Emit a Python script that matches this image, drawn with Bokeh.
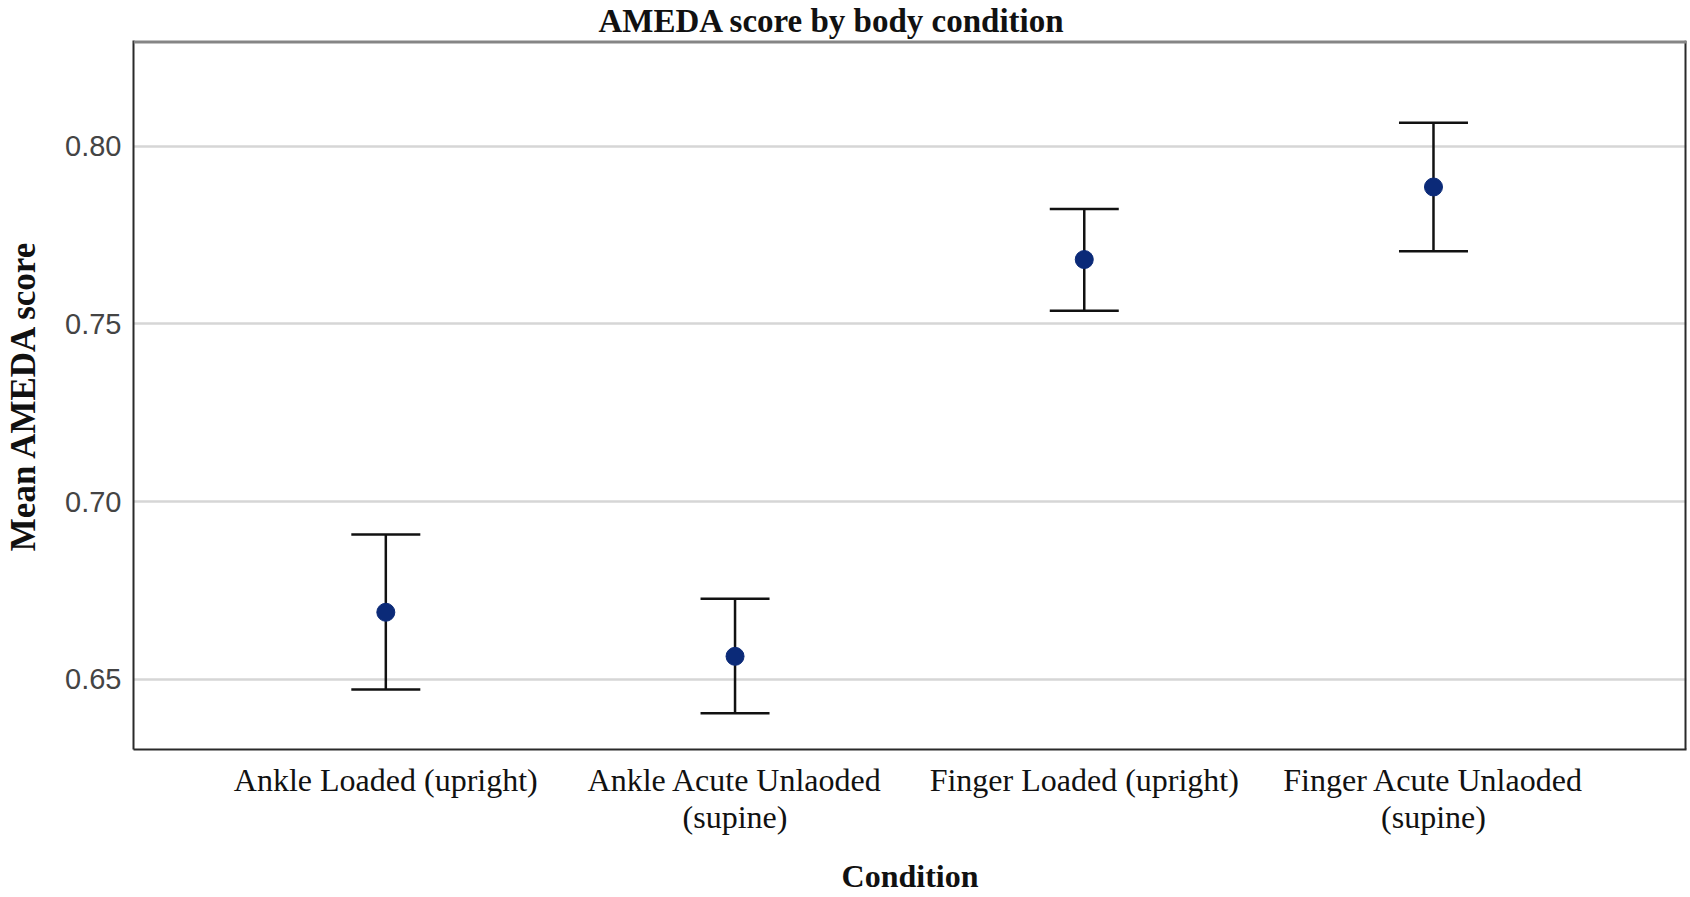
from bokeh.plotting import figure
from bokeh.models import (ColumnDataSource, Whisker, TeeHead, Span,
                          FixedTicker, Range1d)
from bokeh.embed import file_html
from bokeh.resources import INLINE

# ---- data ----
categories = ["Ankle Loaded (upright)", "Ankle Acute Unlaoded\n(supine)",
              "Finger Loaded (upright)", "Finger Acute Unlaoded\n(supine)"]
means = [0.6689, 0.6565, 0.7681, 0.7885]
upper = [0.6908, 0.6727, 0.7823, 0.8066]
lower = [0.6472, 0.6405, 0.7537, 0.7704]
y_ticks = [0.65, 0.70, 0.75, 0.80]
y_tick_labels = ["0.65", "0.70", "0.75", "0.80"]

title_text = "AMEDA score by body condition"
x_title = "Condition"
y_title = "Mean AMEDA score"

xs = list(range(len(categories)))
src = ColumnDataSource(dict(x=xs, mean=means, upper=upper, lower=lower))

X0, X1 = -0.7225, 3.7245
Y0, Y1 = 0.6303, 0.8297

p = figure(width=1690, height=897, output_backend="svg", toolbar_location=None,
           x_range=Range1d(X0, X1), y_range=Range1d(Y0, Y1),
           min_border_left=133, min_border_right=4, min_border_top=40,
           min_border_bottom=147)
p.background_fill_color = "white"
p.border_fill_color = "white"
p.outline_line_color = None

# title
p.title.text = title_text
p.title.align = "left"
p.title.offset = 465
p.title.standoff = 0
p.title.vertical_align = "top"
p.title.text_font = "Liberation Serif"
p.title.text_font_style = "bold"
p.title.text_font_size = "33px"
p.title.text_color = "#111111"

# axes
p.xaxis.ticker = FixedTicker(ticks=xs)
p.xaxis.major_label_overrides = {i: c for i, c in zip(xs, categories)}
p.xaxis.major_label_text_font = "Liberation Serif"
p.xaxis.major_label_text_font_size = "32px"
p.xaxis.major_label_text_color = "#111111"
p.xaxis.major_label_standoff = 12
p.xaxis.major_label_text_line_height = 1.05
p.xaxis.axis_label = x_title
p.xaxis.axis_label_text_font = "Liberation Serif"
p.xaxis.axis_label_text_font_style = "bold"
p.xaxis.axis_label_text_font_size = "32px"
p.xaxis.axis_label_text_color = "#111111"
p.xaxis.axis_label_text_baseline = "alphabetic"
p.xaxis.axis_label_standoff = 20

p.yaxis.ticker = FixedTicker(ticks=y_ticks)
p.yaxis.major_label_overrides = {t: l for t, l in zip(y_ticks, y_tick_labels)}
p.yaxis.major_label_text_font = "Liberation Sans"
p.yaxis.major_label_text_font_size = "29px"
p.yaxis.major_label_text_color = "#444444"
p.yaxis.major_label_standoff = 12
p.yaxis.axis_label = y_title
p.yaxis.axis_label_text_font = "Liberation Serif"
p.yaxis.axis_label_text_font_style = "bold"
p.yaxis.axis_label_text_font_size = "35px"
p.yaxis.axis_label_text_color = "#111111"
p.yaxis.axis_label_text_baseline = "alphabetic"
p.yaxis.axis_label_standoff = 19

for ax in (p.xaxis, p.yaxis):
    ax.axis_line_color = "#2a2a2a"
    ax.axis_line_width = 2
    ax.major_tick_line_color = None
    ax.minor_tick_line_color = None
    ax.major_tick_out = 0
    ax.major_tick_in = 0
    ax.minor_tick_out = 0
    ax.minor_tick_in = 0

p.xgrid.grid_line_color = None
p.ygrid.ticker = FixedTicker(ticks=y_ticks)
p.ygrid.grid_line_color = "#d6d6d6"
p.ygrid.grid_line_width = 2.5

# right and top frame edges
p.add_layout(Span(location=X1, dimension="height", line_color="#2a2a2a", line_width=4))
p.add_layout(Span(location=Y1, dimension="width", line_color="#858585", line_width=6))

# error bars
w = Whisker(source=src, base="x", upper="upper", lower="lower",
            line_color="#111111", line_width=2.5,
            upper_head=TeeHead(size=69, line_color="#111111", line_width=2.5),
            lower_head=TeeHead(size=69, line_color="#111111", line_width=2.5))
p.add_layout(w)

# means
p.scatter(x="x", y="mean", source=src, size=18, marker="circle",
          fill_color="#0b2a78", line_color="#0b2a78")

open("out.html", "w").write(file_html(p, INLINE))
